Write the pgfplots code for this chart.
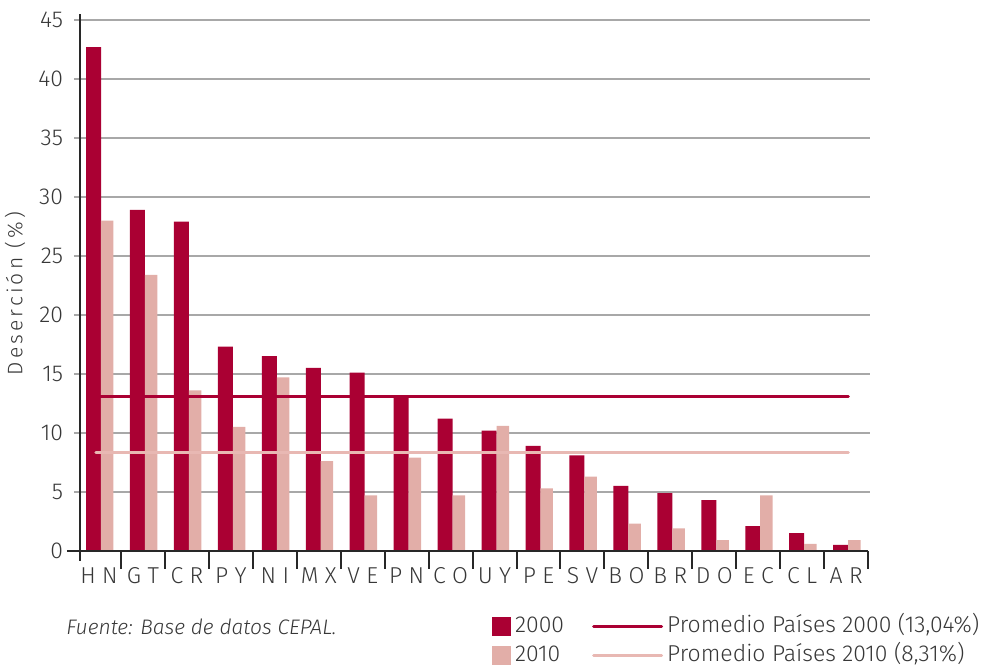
\documentclass[border=0pt]{standalone}
\usepackage{fontspec}
\setmainfont{Fira Sans Light}
\usepackage{pgfplots}
\pgfplotsset{compat=1.18}
\definecolor{rojo}{RGB}{170,0,51}
\definecolor{rosa}{RGB}{226,174,168}
\definecolor{rosaline}{RGB}{232,184,179}
\definecolor{grid}{RGB}{168,168,168}
\definecolor{axisc}{RGB}{40,40,40}
\definecolor{txt}{RGB}{55,55,55}

\begin{document}
\begin{tikzpicture}
\begin{axis}[
  scale only axis, width=395pt, height=269.5pt,
  xmin=-0.43, xmax=17.55, ymin=0, ymax=45.7,
  clip=false,
  axis line style={draw=none},
  major tick length=0pt,
  ytick={0,5,...,45},
  xtick={0,...,17},
  xticklabels={H N,G T,C R,P Y,N I,M X,V E,P N,C O,U Y,P E,S V,B O,B R,D O,E C,C L,A R},
  tick label style={font=\fontsize{11.5}{14}\selectfont, text=txt},
  xticklabel style={yshift=-5pt},
  yticklabel style={xshift=-5pt},
  /pgf/number format/assume math mode=true,
  legend columns=2,
  legend cell align=left,
  legend style={at={(axis cs:8.94,-5.2)}, anchor=north west, draw=none, fill=none,
    inner sep=0pt, font=\fontsize{11.5}{14}\selectfont, text=txt, row sep=0.5pt,
    nodes={inner ysep=1pt, text height=9pt, text depth=3pt},
    /tikz/every even column/.append style={column sep=12pt}},
]
% grid lines
\pgfplotsinvokeforeach{5,10,...,45}{
  \draw[grid, line width=1pt] (axis cs:-0.57,#1) -- (axis cs:17.55,#1);
}
% 2000
\addplot[ybar, bar width=7.5pt, bar shift=-2.75pt, fill=rojo, draw=none, forget plot] coordinates {
(0,42.7) (1,28.9) (2,27.9) (3,17.3) (4,16.5) (5,15.5) (6,15.1) (7,13.0) (8,11.2)
(9,10.2) (10,8.9) (11,8.1) (12,5.5) (13,4.9) (14,4.3) (15,2.1) (16,1.5) (17,0.5)};
% 2010
\addplot[ybar, bar width=6.25pt, bar shift=4.1pt, fill=rosa, draw=none, forget plot] coordinates {
(0,28.0) (1,23.4) (2,13.6) (3,10.5) (4,14.7) (5,7.6) (6,4.7) (7,7.9) (8,4.7)
(9,10.6) (10,5.3) (11,6.3) (12,2.3) (13,1.9) (14,0.9) (15,4.7) (16,0.6) (17,0.9)};
% promedios
\addplot[rojo, line width=1.5pt, line cap=round, forget plot] coordinates {(0.02,13.04) (17.05,13.04)};
\addplot[rosaline, line width=1.5pt, line cap=round, forget plot] coordinates {(-0.07,8.31) (17.05,8.31)};
% axes
\draw[axisc, line width=1pt] (axis cs:-0.43,-0.85) -- (axis cs:-0.43,45.5);
\draw[axisc, line width=1pt] (axis cs:-0.73,0) -- (axis cs:17.5,0);
\pgfplotsinvokeforeach{0.5,1.5,...,17.5}{
  \draw[axisc, line width=1pt] (axis cs:#1,0) -- (axis cs:#1,-1.53);
}
\node[rotate=90, text=txt, font=\fontsize{10.5}{12}\selectfont\addfontfeature{LetterSpace=15}]
  at (axis cs:-1.91,21.8) {Deserción (\%)};
\node[anchor=west, inner sep=0pt, text=txt, font=\fontsize{10.5}{12}\selectfont\itshape]
  at (axis cs:-0.75,-6.44) {Fuente: Base de datos CEPAL.};
% legend
\addlegendimage{legend image code/.code={\fill[rojo] (0pt,-4.5pt) rectangle (9pt,4.5pt);}}
\addlegendentry{2000}
\addlegendimage{legend image code/.code={\draw[rojo, line width=1.5pt, line cap=round] (0pt,0pt) -- (34pt,0pt);}}
\addlegendentry{Promedio Países 2000 (13,04\%)}
\addlegendimage{legend image code/.code={\fill[rosa] (0pt,-4.5pt) rectangle (9pt,4.5pt);}}
\addlegendentry{2010}
\addlegendimage{legend image code/.code={\draw[rosaline, line width=1.5pt, line cap=round] (0pt,0pt) -- (34pt,0pt);}}
\addlegendentry{Promedio Países 2010 (8,31\%)}
\coordinate (bl) at (axis cs:-2.253,-9.75);
\coordinate (tr) at (axis cs:20.25,46.69);
\end{axis}
\pgfresetboundingbox
\path[use as bounding box] (bl) rectangle (tr);
\end{tikzpicture}
\end{document}
